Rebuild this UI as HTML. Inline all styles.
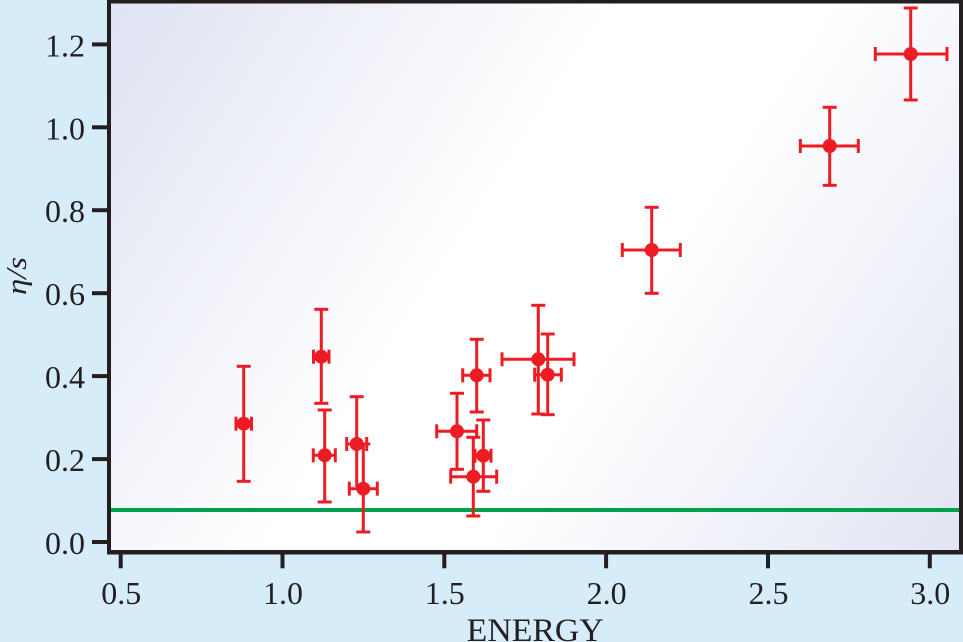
<!DOCTYPE html>
<html>
<head>
<meta charset="utf-8">
<style>
  html,body{margin:0;padding:0;background:#d6edf9;}
  svg{display:block;}
  text{font-family:"Liberation Serif","DejaVu Serif",serif;fill:#231f20;}
</style>
</head>
<body>
<svg width="963" height="642" viewBox="0 0 963 642" xmlns="http://www.w3.org/2000/svg">
  <defs>
    <linearGradient id="bg" gradientUnits="userSpaceOnUse" x1="109" y1="2" x2="961" y2="552">
      <stop offset="0" stop-color="#dfe2f2"/>
      <stop offset="0.42" stop-color="#ffffff"/>
      <stop offset="0.6" stop-color="#ffffff"/>
      <stop offset="1" stop-color="#e1e4f3"/>
    </linearGradient>
  </defs>
  <rect x="0" y="0" width="963" height="642" fill="#d6edf9"/>
  <rect x="109" y="2" width="852" height="550" fill="url(#bg)"/>

  <!-- green line -->
  <line x1="111" y1="510" x2="959" y2="510" stroke="#00a14b" stroke-width="4"/>

  <!-- error bars -->
  <g stroke="#ed1c24" stroke-width="3" fill="none">
    <!-- P1 -->
    <line x1="243.7" y1="366.3" x2="243.7" y2="481.3"/><line x1="236.7" y1="366.3" x2="250.7" y2="366.3"/><line x1="236.7" y1="481.3" x2="250.7" y2="481.3"/>
    <line x1="236" y1="423.7" x2="251.5" y2="423.7"/><line x1="236" y1="416.7" x2="236" y2="430.7"/><line x1="251.5" y1="416.7" x2="251.5" y2="430.7"/>
    <!-- P2 -->
    <line x1="321.3" y1="309.3" x2="321.3" y2="403.3"/><line x1="314.3" y1="309.3" x2="328.3" y2="309.3"/><line x1="314.3" y1="403.3" x2="328.3" y2="403.3"/>
    <line x1="313.5" y1="356.7" x2="329" y2="356.7"/><line x1="313.5" y1="349.7" x2="313.5" y2="363.7"/><line x1="329" y1="349.7" x2="329" y2="363.7"/>
    <!-- P3 -->
    <line x1="324.7" y1="410" x2="324.7" y2="502"/><line x1="317.7" y1="410" x2="331.7" y2="410"/><line x1="317.7" y1="502" x2="331.7" y2="502"/>
    <line x1="313.3" y1="455.3" x2="335.3" y2="455.3"/><line x1="313.3" y1="448.3" x2="313.3" y2="462.3"/><line x1="335.3" y1="448.3" x2="335.3" y2="462.3"/>
    <!-- P4 -->
    <line x1="356.7" y1="396.7" x2="356.7" y2="487"/><line x1="349.7" y1="396.7" x2="363.7" y2="396.7"/>
    <line x1="346.7" y1="444" x2="366.7" y2="444"/><line x1="346.7" y1="437" x2="346.7" y2="451"/><line x1="366.7" y1="437" x2="366.7" y2="451"/>
    <!-- P5 -->
    <line x1="363.3" y1="444" x2="363.3" y2="532"/><line x1="356.3" y1="444" x2="370.3" y2="444"/><line x1="356.3" y1="532" x2="370.3" y2="532"/>
    <line x1="349.3" y1="488.7" x2="377.3" y2="488.7"/><line x1="349.3" y1="481.7" x2="349.3" y2="495.7"/><line x1="377.3" y1="481.7" x2="377.3" y2="495.7"/>
    <!-- P6 -->
    <line x1="457" y1="393.3" x2="457" y2="469.3"/><line x1="450" y1="393.3" x2="464" y2="393.3"/><line x1="450" y1="469.3" x2="464" y2="469.3"/>
    <line x1="436.7" y1="431.3" x2="476.7" y2="431.3"/><line x1="436.7" y1="424.3" x2="436.7" y2="438.3"/><line x1="476.7" y1="424.3" x2="476.7" y2="438.3"/>
    <!-- P7 -->
    <line x1="476.7" y1="339.3" x2="476.7" y2="412"/><line x1="469.7" y1="339.3" x2="483.7" y2="339.3"/><line x1="469.7" y1="412" x2="483.7" y2="412"/>
    <line x1="462.7" y1="375.3" x2="490" y2="375.3"/><line x1="462.7" y1="368.3" x2="462.7" y2="382.3"/><line x1="490" y1="368.3" x2="490" y2="382.3"/>
    <!-- P8 -->
    <line x1="473.3" y1="437.3" x2="473.3" y2="516"/><line x1="466.3" y1="437.3" x2="480.3" y2="437.3"/><line x1="466.3" y1="516" x2="480.3" y2="516"/>
    <line x1="450.7" y1="476.7" x2="496.7" y2="476.7"/><line x1="450.7" y1="469.7" x2="450.7" y2="483.7"/><line x1="496.7" y1="469.7" x2="496.7" y2="483.7"/>
    <!-- P9 -->
    <line x1="483.3" y1="420" x2="483.3" y2="491.3"/><line x1="476.3" y1="420" x2="490.3" y2="420"/><line x1="476.3" y1="491.3" x2="490.3" y2="491.3"/>
    <line x1="475" y1="455.7" x2="491" y2="455.7"/><line x1="475" y1="448.7" x2="475" y2="462.7"/><line x1="491" y1="448.7" x2="491" y2="462.7"/>
    <!-- P10 -->
    <line x1="538.3" y1="305.3" x2="538.3" y2="414"/><line x1="531.3" y1="305.3" x2="545.3" y2="305.3"/><line x1="531.3" y1="414" x2="545.3" y2="414"/>
    <line x1="502" y1="359.3" x2="574" y2="359.3"/><line x1="502" y1="352.3" x2="502" y2="366.3"/><line x1="574" y1="352.3" x2="574" y2="366.3"/>
    <!-- P11 -->
    <line x1="547.7" y1="334" x2="547.7" y2="414.7"/><line x1="540.7" y1="334" x2="554.7" y2="334"/><line x1="540.7" y1="414.7" x2="554.7" y2="414.7"/>
    <line x1="534.7" y1="374.7" x2="561.3" y2="374.7"/><line x1="534.7" y1="367.7" x2="534.7" y2="381.7"/><line x1="561.3" y1="367.7" x2="561.3" y2="381.7"/>
    <!-- P12 -->
    <line x1="651.7" y1="207.3" x2="651.7" y2="293.3"/><line x1="644.7" y1="207.3" x2="658.7" y2="207.3"/><line x1="644.7" y1="293.3" x2="658.7" y2="293.3"/>
    <line x1="622.3" y1="250" x2="680.3" y2="250"/><line x1="622.3" y1="243" x2="622.3" y2="257"/><line x1="680.3" y1="243" x2="680.3" y2="257"/>
    <!-- P13 -->
    <line x1="829.7" y1="107.3" x2="829.7" y2="185.3"/><line x1="822.7" y1="107.3" x2="836.7" y2="107.3"/><line x1="822.7" y1="185.3" x2="836.7" y2="185.3"/>
    <line x1="800.3" y1="146" x2="858.3" y2="146"/><line x1="800.3" y1="139" x2="800.3" y2="153"/><line x1="858.3" y1="139" x2="858.3" y2="153"/>
    <!-- P14 -->
    <line x1="910.7" y1="8" x2="910.7" y2="100"/><line x1="903.7" y1="8" x2="917.7" y2="8"/><line x1="903.7" y1="100" x2="917.7" y2="100"/>
    <line x1="875.3" y1="54" x2="947" y2="54"/><line x1="875.3" y1="47" x2="875.3" y2="61"/><line x1="947" y1="47" x2="947" y2="61"/>
  </g>
  <!-- markers -->
  <g fill="#ed1c24">
    <circle cx="243.7" cy="423.7" r="7"/>
    <circle cx="321.3" cy="356.7" r="7"/>
    <circle cx="324.7" cy="455.3" r="7"/>
    <circle cx="356.7" cy="444" r="7"/>
    <circle cx="363.3" cy="488.7" r="7"/>
    <circle cx="457" cy="431.3" r="7"/>
    <circle cx="476.7" cy="375.3" r="7"/>
    <circle cx="473.3" cy="476.7" r="7"/>
    <circle cx="483.3" cy="455.7" r="7"/>
    <circle cx="538.3" cy="359.3" r="7"/>
    <circle cx="547.7" cy="374.7" r="7"/>
    <circle cx="651.7" cy="250" r="7"/>
    <circle cx="829.7" cy="146" r="7"/>
    <circle cx="910.7" cy="54" r="7"/>
  </g>

  <!-- frame -->
  <g fill="#231f20">
    <rect x="107" y="0" width="856" height="3.5"/>
    <rect x="107" y="550" width="856" height="4.5"/>
    <rect x="107" y="0" width="4" height="554.5"/>
    <rect x="959" y="0" width="4" height="554.5"/>
    <!-- y ticks -->
    <rect x="92" y="540" width="16" height="4"/>
    <rect x="92" y="457.1" width="16" height="4"/>
    <rect x="92" y="374.1" width="16" height="4"/>
    <rect x="92" y="291.2" width="16" height="4"/>
    <rect x="92" y="208.2" width="16" height="4"/>
    <rect x="92" y="125.3" width="16" height="4"/>
    <rect x="92" y="42.4" width="16" height="4"/>
    <!-- x ticks -->
    <rect x="118.7" y="553" width="4" height="15.3"/>
    <rect x="280.5" y="553" width="4" height="15.3"/>
    <rect x="442.3" y="553" width="4" height="15.3"/>
    <rect x="604.1" y="553" width="4" height="15.3"/>
    <rect x="766" y="553" width="4" height="15.3"/>
    <rect x="927.8" y="553" width="4" height="15.3"/>
  </g>

  <!-- y tick labels -->
  <g font-size="32" text-anchor="end">
    <text x="85" y="554">0.0</text>
    <text x="85" y="471.1">0.2</text>
    <text x="85" y="388.1">0.4</text>
    <text x="85" y="305.2">0.6</text>
    <text x="85" y="222.2">0.8</text>
    <text x="85" y="139.3">1.0</text>
    <text x="85" y="56.4">1.2</text>
  </g>
  <!-- x tick labels -->
  <g font-size="32" text-anchor="middle">
    <text x="121.2" y="604">0.5</text>
    <text x="283" y="604">1.0</text>
    <text x="444.8" y="604">1.5</text>
    <text x="606.6" y="604">2.0</text>
    <text x="768.5" y="604">2.5</text>
    <text x="930.3" y="604">3.0</text>
  </g>
  <!-- axis labels -->
  <text x="466.7" y="641" font-size="33" textLength="137" lengthAdjust="spacingAndGlyphs">ENERGY</text>
  <text transform="translate(26,295) rotate(-90)" font-size="28" font-style="italic" textLength="38" lengthAdjust="spacingAndGlyphs">η/s</text>
</svg>
</body>
</html>
